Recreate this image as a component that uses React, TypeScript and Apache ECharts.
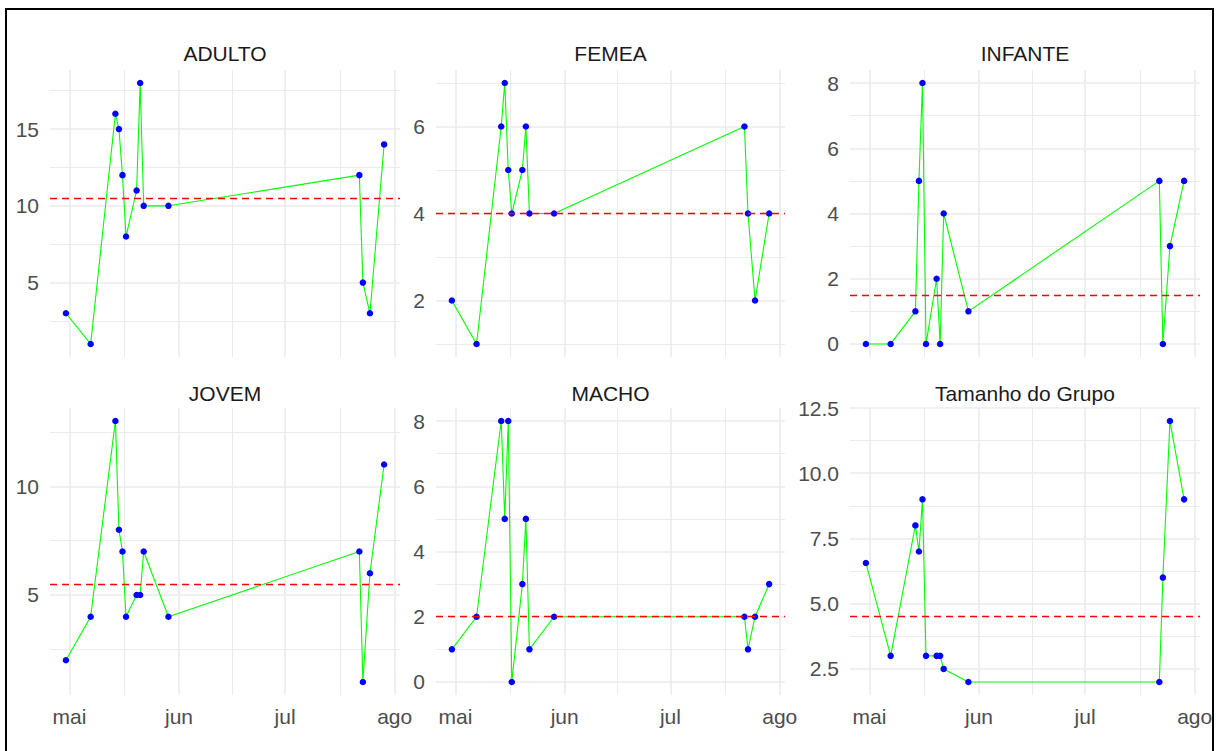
import React, { useEffect, useRef } from "react";
import * as echarts from "echarts";

// observation dates (shared by every panel)
const dates = [
  "2023-04-30", "2023-05-07", "2023-05-14", "2023-05-15", "2023-05-16",
  "2023-05-17", "2023-05-20", "2023-05-21", "2023-05-22", "2023-05-29",
  "2023-07-22", "2023-07-23", "2023-07-25", "2023-07-29",
];

const adulto = [3, 1, 16, 15, 12, 8, 11, 18, 10, 10, 12, 5, 3, 14];
const femea = [2, 1, 6, 7, 5, 4, 5, 6, 4, 4, 6, 4, 2, 4];
const infante = [0, 0, 1, 5, 8, 0, 2, 0, 4, 1, 5, 0, 3, 5];
const jovem = [2, 4, 13, 8, 7, 4, 5, 5, 7, 4, 7, 1, 6, 11];
const macho = [1, 2, 8, 5, 8, 0, 3, 5, 1, 2, 2, 1, 2, 3];
const tamanho = [6.56, 3, 8, 7, 9, 3, 3, 3, 2.5, 2, 2, 6, 12, 9];

const panelNames = ["ADULTO", "FEMEA", "INFANTE", "JOVEM", "MACHO", "Tamanho do Grupo"];
const panelValues = [adulto, femea, infante, jovem, macho, tamanho];

const yMajorTicks = [
  [5, 10, 15],
  [2, 4, 6],
  [0, 2, 4, 6, 8],
  [5, 10],
  [0, 2, 4, 6, 8],
  [2.5, 5, 7.5, 10, 12.5],
];
const yMinorTicks = [
  [2.5, 7.5, 12.5, 17.5],
  [1, 3, 5, 7],
  [1, 3, 5, 7],
  [2.5, 7.5, 12.5],
  [1, 3, 5, 7],
  [3.75, 6.25, 8.75, 11.25],
];
const yLabelDecimals = [0, 0, 0, 0, 0, 1];

const xMajorTicks = ["2023-05-01", "2023-06-01", "2023-07-01", "2023-08-01"];
const xMinorTicks = ["2023-05-16T12:00:00Z", "2023-06-16T00:00:00Z", "2023-07-16T12:00:00Z"];
const monthLabels = ["jan", "fev", "mar", "abr", "mai", "jun", "jul", "ago", "set", "out", "nov", "dez"];

// layout
const colLeft = [50, 436, 850];
const colWidth = [350, 349, 350];
const rowTop = [70, 408];
const rowHeight = 287;
const stripY = [53, 393];

const FONT = "'Liberation Sans', Arial, sans-serif";
const GRID_COLOR = "#EBEBEB";
const FONT_SIZE = 21;

function median(arr: number[]) {
  const s = [...arr].sort((a, b) => a - b);
  const m = Math.floor(s.length / 2);
  return s.length % 2 ? s[m] : (s[m - 1] + s[m]) / 2;
}

function buildOption() {
  const ts = dates.map((d) => Date.parse(d));
  const tMin = Math.min(...ts);
  const tMax = Math.max(...ts);
  const xPad = (tMax - tMin) * 0.05;
  const xMin = tMin - xPad;
  const xMax = tMax + xPad;
  const xMajor = xMajorTicks.map((d) => Date.parse(d));
  const xMinor = xMinorTicks.map((d) => Date.parse(d));

  const grid: any[] = [];
  const xAxis: any[] = [];
  const yAxis: any[] = [];
  const series: any[] = [];
  const graphic: any[] = [];

  panelValues.forEach((vals, i) => {
    const r = Math.floor(i / 3);
    const c = i % 3;
    grid.push({
      left: colLeft[c],
      top: rowTop[r],
      width: colWidth[c],
      height: rowHeight,
      containLabel: false,
      outerBoundsMode: "none",
    });
    const vMin = Math.min(...vals);
    const vMax = Math.max(...vals);
    const yPad = (vMax - vMin) * 0.05;
    const yMin = vMin - yPad;
    const yMax = vMax + yPad;

    // major x
    xAxis.push({
      type: "value",
      gridIndex: i,
      position: "bottom",
      min: xMin,
      max: xMax,
      axisLine: { show: false },
      axisTick: { show: false, customValues: xMajor },
      axisLabel: {
        show: r === 1,
        customValues: xMajor,
        formatter: (v: number) => monthLabels[new Date(v).getUTCMonth()],
        color: "#4D4D4D",
        fontSize: FONT_SIZE,
        fontFamily: FONT,
        margin: 11,
      },
      splitLine: { show: true, lineStyle: { color: GRID_COLOR, width: 1.6 } },
    });
    // minor x
    xAxis.push({
      type: "value",
      gridIndex: i,
      position: "bottom",
      min: xMin,
      max: xMax,
      axisLine: { show: false },
      axisTick: { show: false, customValues: xMinor },
      axisLabel: { show: false },
      splitLine: { show: true, lineStyle: { color: GRID_COLOR, width: 1 } },
    });
    // major y
    yAxis.push({
      type: "value",
      gridIndex: i,
      position: "left",
      min: yMin,
      max: yMax,
      axisLine: { show: false },
      axisTick: { show: false, customValues: yMajorTicks[i] },
      axisLabel: {
        show: true,
        customValues: yMajorTicks[i],
        formatter: (v: number) => v.toFixed(yLabelDecimals[i]),
        color: "#4D4D4D",
        fontSize: FONT_SIZE,
        fontFamily: FONT,
        margin: 11,
        padding: [5, 0, 0, 0],
      },
      splitLine: { show: true, lineStyle: { color: GRID_COLOR, width: 1.6 } },
    });
    // minor y
    yAxis.push({
      type: "value",
      gridIndex: i,
      position: "left",
      min: yMin,
      max: yMax,
      axisLine: { show: false },
      axisTick: { show: false, customValues: yMinorTicks[i] },
      axisLabel: { show: false },
      splitLine: { show: true, lineStyle: { color: GRID_COLOR, width: 1 } },
    });

    const data = ts.map((t, k) => [t, vals[k]]);
    series.push({
      type: "line",
      xAxisIndex: 2 * i,
      yAxisIndex: 2 * i,
      data,
      symbol: "none",
      showSymbol: false,
      silent: true,
      lineStyle: { color: "#00FF00", width: 1.1 },
      z: 2,
      markLine: {
        silent: true,
        symbol: ["none", "none"],
        label: { show: false },
        lineStyle: { color: "#FF0000", type: [7, 5], width: 1.4, opacity: 1 },
        data: [{ yAxis: median(vals) }],
      },
    });
    series.push({
      type: "scatter",
      xAxisIndex: 2 * i,
      yAxisIndex: 2 * i,
      data,
      symbol: "circle",
      symbolSize: 6.5,
      silent: true,
      itemStyle: { color: "#0000FF", opacity: 1 },
      z: 3,
    });

    graphic.push({
      type: "text",
      x: colLeft[c] + colWidth[c] / 2,
      y: stripY[r],
      silent: true,
      style: {
        text: panelNames[i],
        fill: "#1A1A1A",
        fontSize: FONT_SIZE,
        fontFamily: FONT,
        align: "center",
        verticalAlign: "middle",
      },
    });
  });

  return {
    animation: false,
    backgroundColor: "#FFFFFF",
    grid,
    xAxis,
    yAxis,
    series,
    graphic,
  };
}

export default function App() {
  const ref = useRef<HTMLDivElement>(null);
  useEffect(() => {
    if (!ref.current) return;
    const chart = echarts.init(ref.current, undefined, { renderer: "svg" });
    chart.setOption(buildOption() as any);
    return () => chart.dispose();
  }, []);
  return (
    <div
      style={{
        position: "fixed",
        left: 0,
        top: 0,
        width: 1222,
        height: 751,
        overflow: "hidden",
        background: "#FFFFFF",
      }}
    >
      <div ref={ref} style={{ position: "absolute", left: 0, top: 0, width: 1222, height: 751 }} />
      <div
        style={{
          position: "absolute",
          left: 5,
          top: 8,
          width: 1209,
          height: 800,
          boxSizing: "border-box",
          border: "2px solid #000000",
          pointerEvents: "none",
        }}
      />
    </div>
  );
}
